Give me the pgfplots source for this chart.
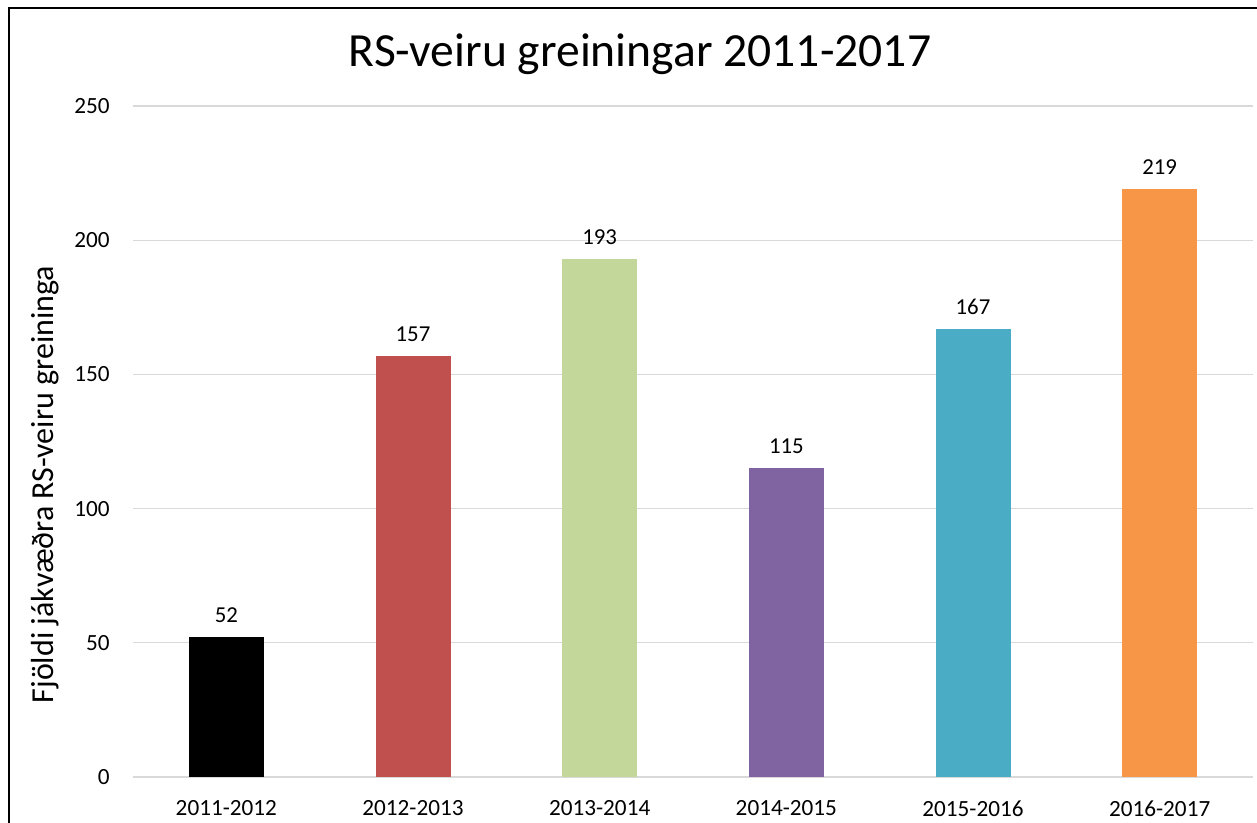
\documentclass[border=0pt]{standalone}
\usepackage{pgfplots}
\pgfplotsset{compat=1.18}
\usepackage{fontspec}
\setmainfont{Carlito}

\definecolor{barblack}{HTML}{000000}
\definecolor{barred}{HTML}{C0504D}
\definecolor{bargreen}{HTML}{C4D79B}
\definecolor{barpurple}{HTML}{8064A2}
\definecolor{barblue}{HTML}{4BACC6}
\definecolor{barorange}{HTML}{F79646}
\definecolor{gridgray}{HTML}{D9D9D9}

\begin{document}
\begin{tikzpicture}
% page = 1257 x 823 px at 0.5pt per px
\useasboundingbox (0pt,0pt) rectangle (628.5pt,-411.5pt);
\draw[line width=1pt] (4.25pt,-411.5pt) -- (4.25pt,-4.25pt) -- (628.5pt,-4.25pt);

\node[anchor=base, font=\fontsize{23.8}{28}\selectfont] at (320pt,-33.5pt)
  {RS-veiru greiningar 2011-2017};

\begin{axis}[
    at={(66.5pt,-388.5pt)}, anchor=south west,
    scale only axis,
    width=560pt, height=335.5pt,
    xmin=-0.5, xmax=5.5,
    ymin=0, ymax=250,
    ytick={0,50,100,150,200,250},
    xtick={0,1,2,3,4,5},
    xticklabels={2011-2012,2012-2013,2013-2014,2014-2015,2015-2016,2016-2017},
    axis line style={draw=none},
    major tick length=0pt,
    ymajorgrids=true,
    grid style={gridgray, line width=0.6pt},
    /pgf/number format/assume math mode=true,
    tick label style={font=\fontsize{11.6}{14}\selectfont, inner sep=0pt},
    yticklabel style={xshift=-11.5pt},
    xticklabel style={yshift=-11.5pt},
    ylabel={Fjöldi jákvæðra RS-veiru greininga},
    ylabel style={font=\fontsize{16}{19}\selectfont, at={(axis description cs:-0.078,0.436)}, anchor=center},
    ybar, bar width=37.5pt, bar shift=0pt,
    nodes near coords,
    every node near coord/.append style={font=\fontsize{11.4}{14}\selectfont, inner sep=0pt, anchor=south, yshift=7pt, text=black},
]
\addplot[fill=barblack, draw=none] coordinates {(0,52)};
\addplot[fill=barred, draw=none] coordinates {(1,157)};
\addplot[fill=bargreen, draw=none] coordinates {(2,193)};
\addplot[fill=barpurple, draw=none] coordinates {(3,115)};
\addplot[fill=barblue, draw=none] coordinates {(4,167)};
\addplot[fill=barorange, draw=none] coordinates {(5,219)};
\end{axis}
\end{tikzpicture}
\end{document}
